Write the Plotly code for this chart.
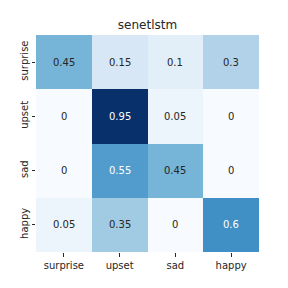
import plotly.graph_objects as go

labels = ["surprise", "upset", "sad", "happy"]
values = [
    [0.45, 0.15, 0.1, 0.3],
    [0, 0.95, 0.05, 0],
    [0, 0.55, 0.45, 0],
    [0.05, 0.35, 0, 0.6],
]
title = "senetlstm"

blues = ["#f7fbff", "#deebf7", "#c6dbef", "#9ecae1", "#6baed6",
         "#4292c6", "#2171b5", "#08519c", "#08306b"]
cs = [[i / (len(blues) - 1), c] for i, c in enumerate(blues)]
zmax = max(max(r) for r in values)

fig = go.Figure(go.Heatmap(
    z=values, x=labels, y=labels, colorscale=cs, zmin=0, zmax=zmax,
    showscale=False, xgap=0, ygap=0, hoverinfo="skip",
))

annotations = []
for i, row in enumerate(values):
    for j, v in enumerate(row):
        annotations.append(dict(
            x=labels[j], y=labels[i], text=f"{v:g}", showarrow=False,
            font=dict(size=10, family="DejaVu Sans",
                      color="white" if v / zmax > 0.52 else "#262626"),
        ))

fig.update_layout(
    width=288, height=288,
    margin=dict(l=36, r=29, t=35, b=36),
    paper_bgcolor="white", plot_bgcolor="white",
    title=dict(text=title, xref="paper", x=0.5, xanchor="center",
               y=1 - 25 / 288, yanchor="middle",
               font=dict(size=12, family="DejaVu Sans", color="#262626")),
    annotations=annotations,
    font=dict(family="DejaVu Sans", size=10, color="#262626"),
)
fig.update_xaxes(ticks="outside", ticklen=3.5, tickcolor="#262626", showgrid=False,
                 zeroline=False, showline=False, tickfont=dict(size=10), automargin=False)
fig.update_yaxes(autorange="reversed", ticks="outside", ticklen=3.5, tickcolor="#262626",
                 showgrid=False, zeroline=False, showline=False, tickangle=-90,
                 tickfont=dict(size=10), automargin=False)

fig.write_html("out.html", config={"displayModeBar": False, "staticPlot": True})
with open("out.html", encoding="utf-8") as f:
    html = f.read()
html = html.replace("<body>", '<body style="margin:0;padding:0;overflow:hidden">', 1)
with open("out.html", "w", encoding="utf-8") as f:
    f.write(html)
